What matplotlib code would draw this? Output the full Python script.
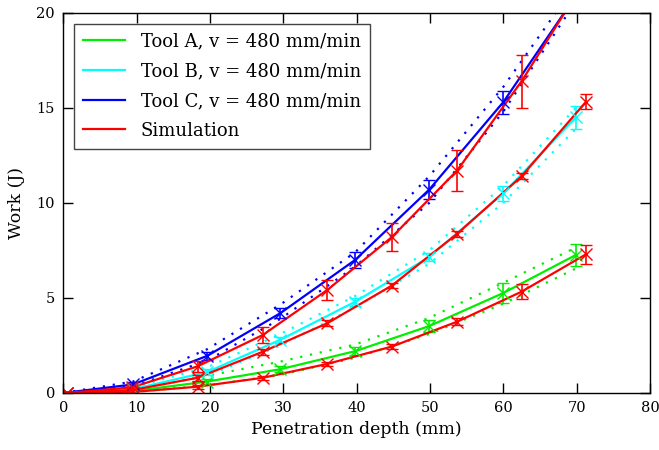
import matplotlib
matplotlib.use('Agg')
import matplotlib.pyplot as plt
from matplotlib.lines import Line2D

plt.rcParams['font.family'] = 'DejaVu Serif'
plt.rcParams['mathtext.fontset'] = 'dejavuserif'

# experimental depths (mm), line starts at the origin
depth_exp = [0, 9.5, 19.6, 29.6, 39.8, 49.9, 60.0, 69.9]

# Tool A (green)
work_a = [0, 0.10, 0.60, 1.25, 2.20, 3.52, 5.26, 7.26]
err_a = [0, 0.08, 0.12, 0.15, 0.20, 0.30, 0.55, 0.60]
upper_a = [0, 0.20, 0.90, 1.65, 2.55, 3.95, 5.80, 7.65]
lower_a = [0, 0.05, 0.40, 0.95, 1.85, 3.10, 4.70, 6.55]

# Tool B (cyan)
work_b = [0, 0.20, 1.10, 2.80, 4.80, 7.15, 10.5, 14.5]
err_b = [0, 0.10, 0.15, 0.15, 0.20, 0.20, 0.40, 0.60]
upper_b = [0, 0.30, 1.35, 3.10, 5.10, 7.50, 10.9, 15.0]
lower_b = [0, 0.15, 0.90, 2.50, 4.50, 6.80, 10.0, 13.9]

# Tool C (blue)
work_c = [0, 0.45, 1.95, 4.20, 7.00, 10.7, 15.3, 20.9]
err_c = [0, 0.15, 0.20, 0.25, 0.40, 0.50, 0.60, 0.70]
upper_c = [0, 0.60, 2.30, 4.65, 7.40, 11.4, 16.1, 21.5]
lower_c = [0, 0.35, 1.70, 3.90, 6.65, 10.0, 14.8, 20.6]

# simulation (red), one curve per tool
depth_sim = [0.5, 9.4, 18.3, 27.2, 36.0, 44.8, 53.7, 62.5, 71.3]
sim_a = [0, 0.05, 0.33, 0.80, 1.53, 2.44, 3.75, 5.33, 7.30]
sim_a_err = [0.02, 0.05, 0.10, 0.10, 0.10, 0.15, 0.20, 0.40, 0.50]
sim_b = [0, 0.15, 0.80, 2.17, 3.67, 5.65, 8.37, 11.4, 15.33]
sim_b_err = [0.03, 0.10, 0.15, 0.15, 0.15, 0.15, 0.15, 0.15, 0.40]
sim_c = [0, 0.30, 1.40, 3.05, 5.42, 8.20, 11.7, 16.4, 21.8]
sim_c_err = [0.05, 0.25, 0.30, 0.40, 0.54, 0.75, 1.10, 1.40, 1.50]

labels = ['Tool A, v = 480 mm/min', 'Tool B, v = 480 mm/min',
          'Tool C, v = 480 mm/min', 'Simulation']
colors = ['#00ee00', '#00ffff', '#0000ff', '#ff0000']

fig = plt.figure(figsize=(6.59, 4.5), dpi=100)
ax = fig.add_axes([0.0961, 0.1267, 0.8902, 0.8450])

exp_sets = [(work_a, err_a, upper_a, lower_a, colors[0]),
            (work_b, err_b, upper_b, lower_b, colors[1]),
            (work_c, err_c, upper_c, lower_c, colors[2])]
for work, err, up, lo, col in exp_sets:
    ax.plot(depth_exp, up, color=col, lw=1.6, dashes=(1, 3.5))
    ax.plot(depth_exp, lo, color=col, lw=1.6, dashes=(1, 3.5))
    ax.plot(depth_exp, work, color=col, lw=1.6)
    ax.errorbar(depth_exp[1:], work[1:], yerr=err[1:], fmt='x', color=col,
                ms=9, mew=1.0, elinewidth=1.2, capsize=4, capthick=1.2)

for work, err in [(sim_a, sim_a_err), (sim_b, sim_b_err), (sim_c, sim_c_err)]:
    ax.plot(depth_sim, work, color=colors[3], lw=1.6)
    ax.errorbar(depth_sim, work, yerr=err, fmt='x', color=colors[3],
                ms=9, mew=1.0, elinewidth=1.2, capsize=4, capthick=1.2)

ax.set_xlim(0, 80)
ax.set_ylim(0, 20)
ax.set_xticks(range(0, 81, 10))
ax.set_yticks(range(0, 21, 5))
ax.tick_params(direction='in', top=True, right=True, length=7, width=1,
               labelsize=10.5, pad=6)
for s in ax.spines.values():
    s.set_linewidth(1.0)
ax.set_xlabel('Penetration depth (mm)', fontsize=12.5)
ax.set_ylabel('Work (J)', fontsize=12.5, labelpad=8)

handles = [Line2D([], [], color=c, lw=1.6) for c in colors]
leg = ax.legend(handles, labels, loc='upper left', fontsize=13,
                fancybox=False, framealpha=1, edgecolor='#444444',
                handlelength=2.3, handletextpad=0.9, labelspacing=0.65,
                borderaxespad=0.6, borderpad=0.5)
leg.get_frame().set_linewidth(1.0)

fig.savefig('out.png', dpi=100)
